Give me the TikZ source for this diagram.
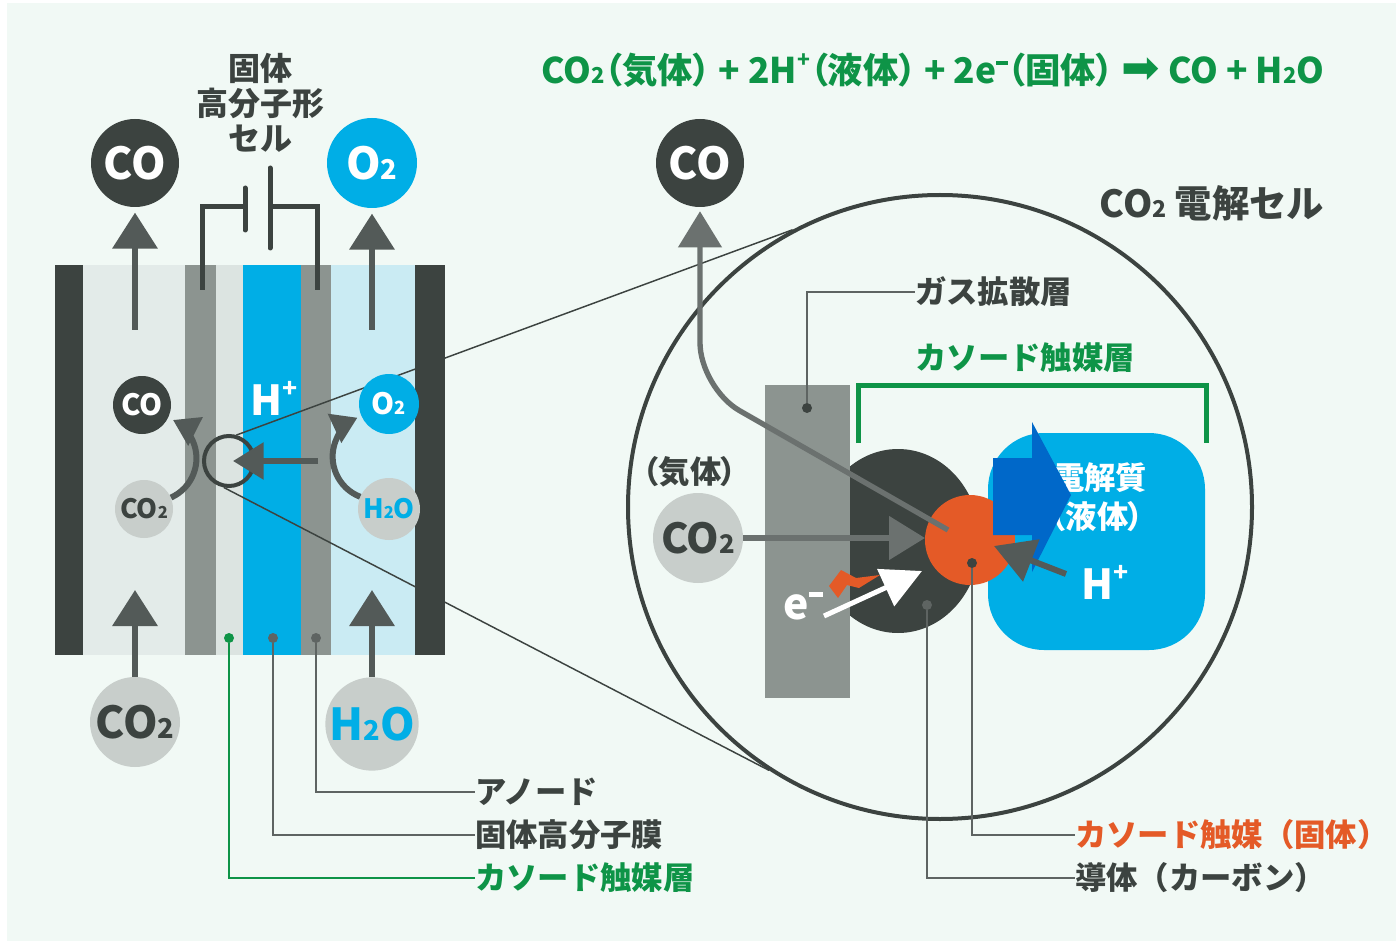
\documentclass[tikz,border=0pt]{standalone}
\usepackage{fontspec}
\usepackage{graphicx}
\setmainfont{Noto Sans CJK JP}
\newfontfamily\jpp{Noto Sans CJK JP}[RawFeature=+palt]
\newfontfamily\djv{DejaVu Sans}
\usetikzlibrary{arrows.meta}
\newcommand\setpt[1]{\fontsize{#1}{#1}\selectfont}
\newcommand\chemsub[1]{\scalebox{0.62}{#1}}
\newcommand\chemsup[1]{\raisebox{0.8ex}{\scalebox{0.6}{#1}}}
\newcommand\chemminus{\raisebox{0.95ex}{\rule{0.32em}{0.11em}}}

\definecolor{bgmint}{HTML}{F1F9F5}
\definecolor{ink}{HTML}{3C4340}
\definecolor{arrowgray}{HTML}{535A58}
\definecolor{midgray}{HTML}{6B716F}
\definecolor{layergray}{HTML}{8C9490}
\definecolor{gaslight}{HTML}{E3EBE9}
\definecolor{catlight}{HTML}{DCE4E1}
\definecolor{skyblue}{HTML}{00AEE6}
\definecolor{paleblue}{HTML}{CAEBF3}
\definecolor{pebble}{HTML}{C8CECB}
\definecolor{leafgreen}{HTML}{0E9447}
\definecolor{rust}{HTML}{E45A27}
\definecolor{deepblue}{HTML}{0068C9}
\definecolor{leadergray}{HTML}{5E6462}

\tikzset{
  mol/.style={circle, inner sep=0pt, font=\bfseries\setpt{33}},
  smallmol/.style={circle, inner sep=0pt, font=\bfseries\setpt{22}},
  lbl/.style={inner sep=0pt, text=ink, font=\bfseries\setpt{23.5}},
  leaddot/.style={circle, inner sep=0pt, minimum size=7.5pt},
  leader/.style={draw=leadergray, line width=1.1pt},
  flowbig/.style={draw=arrowgray, line width=5pt, -{Triangle[length=27pt,width=33pt]}},
  flowturn/.style={draw=arrowgray, line width=4.5pt, -{Triangle[length=19pt,width=23pt]}},
  flowmid/.style={draw=midgray, line width=4pt, -{Triangle[length=27pt,width=32pt]}},
  wire/.style={draw=ink, line width=3.75pt},
}

\begin{document}
\begin{tikzpicture}[x=0.75pt, y=-0.75pt]
\useasboundingbox (0,0) rectangle (1396,941);
\fill[white] (0,0) rectangle (1396,941);
\fill[bgmint] (7,3) rectangle (1396,941);

% ---------- solid polymer cell, cross-section ----------
\fill[ink] (55,265) rectangle (83,655);
\fill[gaslight] (83,265) rectangle (185,655);
\fill[layergray] (185,265) rectangle (216,655);
\fill[catlight] (216,265) rectangle (243,655);
\fill[skyblue] (243,265) rectangle (301,655);
\fill[layergray] (301,265) rectangle (331,655);
\fill[paleblue] (331,265) rectangle (415,655);
\fill[ink] (415,265) rectangle (445,655);

% power source
\draw[wire] (202,290) -- (202,207) -- (245,207);
\draw[wire, line cap=round] (245,188) -- (245,230);
\draw[wire, line cap=round] (270,168) -- (270,248);
\draw[wire] (270,207) -- (317,207) -- (317,290);
\node[lbl, align=center, font=\bfseries\fontsize{24}{26}\selectfont] (cellname) at (260,103) {固体\\高分子形\\セル};

% magnifier spot and big lens
\node[circle, draw=ink, line width=3pt, minimum size=37.5pt, inner sep=0pt] (zoomSpot) at (229,461) {};
\node[circle, draw=ink, line width=3pt, minimum size=468pt, inner sep=0pt] (lens) at (940,507) {};
\draw[ink, line width=1.1pt] (zoomSpot.74) -- (lens.118);
\draw[ink, line width=1.1pt] (zoomSpot.259) -- (lens.237);

% layer pointers
\node[leaddot, fill=leafgreen] (dCat) at (229,638) {};
\node[leaddot, fill=leadergray] (dMem) at (273,638) {};
\node[leaddot, fill=leadergray] (dAn) at (316,638) {};
\node[lbl, anchor=west] (lAn) at (475,792) {アノード};
\node[lbl, anchor=west] (lMem) at (475,835) {固体高分子膜};
\node[lbl, anchor=west, text=leafgreen] (lCat) at (475,878) {カソード触媒層};
\draw[leader] (dAn) |- (lAn.west);
\draw[leader] (dMem) |- (lMem.west);
\draw[leader, draw=leafgreen] (dCat) |- (lCat.west);

% molecules in and out
\node[mol, fill=ink, text=white, minimum size=66pt] (coTop) at (135,163) {CO};
\node[mol, fill=skyblue, text=white, minimum size=67.5pt] (o2Top) at (372,163) {O\chemsub{2}};
\node[mol, fill=pebble, text=ink, minimum size=67.5pt] (co2Bot) at (135,722) {CO\chemsub{2}};
\node[mol, fill=pebble, text=skyblue, minimum size=70pt] (h2oBot) at (372,724) {H\chemsub{2}O};

\coordinate (coRise) at (135,330);
\coordinate (o2Rise) at (372,330);
\coordinate (co2Feed) at (135,590);
\coordinate (h2oFeed) at (372,590);
\draw[flowbig, shorten >=4pt] (coRise) -- (coTop);
\draw[flowbig, shorten >=4pt] (o2Rise) -- (o2Top);
\draw[flowbig] (co2Bot) -- (co2Feed);
\draw[flowbig] (h2oBot) -- (h2oFeed);

% reactions at the electrodes
\node[smallmol, fill=ink, text=white, minimum size=43.5pt] (coS) at (142,405) {CO};
\node[smallmol, fill=skyblue, text=white, minimum size=45pt] (o2S) at (389,404) {O\chemsub{2}};
\node[smallmol, fill=pebble, text=ink, minimum size=43.5pt, font=\bfseries\setpt{20}] (co2S) at (144,509) {CO\chemsub{2}};
\node[smallmol, fill=pebble, text=skyblue, minimum size=46.5pt, font=\bfseries\setpt{20}] (h2oS) at (389,509) {H\chemsub{2}O};
\draw[flowturn] (co2S.23) arc[start angle=66, end angle=-63, radius=43];
\draw[flowturn] (h2oS.157) arc[start angle=111, end angle=245, radius=43];

\node[text=white, inner sep=0pt, font=\bfseries\setpt{31}] (hplusL) at (274,398) {H\chemsup{+}};
\coordinate (hplusSrc) at (318,461);
\coordinate (hplusTip) at (233,461);
\draw[draw=arrowgray, line width=4.5pt, -{Triangle[length=23pt,width=27pt]}] (hplusSrc) -- (hplusTip);

% ---------- enlarged cathode ----------
\fill[ink] (898,541) ellipse[x radius=82, y radius=92];
\fill[layergray] (765,385) rectangle (850,698);
\node[fill=skyblue, rounded corners=42pt, minimum width=162.75pt, minimum height=162.75pt, inner sep=0pt] (elec) at (1096.5,541.5) {};
\node[lbl, text=white] (elecName) at (1100,478) {電解質};
\node[lbl, text=white, font=\jpp\bfseries\setpt{23.5}] (elecState) at (1097,517) {（液体）};
\node[circle, fill=rust, minimum size=67.5pt, inner sep=0pt] (catalyst) at (970,540) {};

\node[leaddot, fill=ink] (dGdl) at (807,408) {};
\node[leaddot, fill=ink] (dCatR) at (972,563) {};
\node[leaddot, fill=leadergray] (dCarb) at (927,605) {};
\node[lbl, anchor=west] (lGdl) at (915,292) {ガス拡散層};
\node[lbl, anchor=west, text=rust] (lCatR) at (1075,835) {カソード触媒（固体）};
\node[lbl, anchor=west] (lCarb) at (1075,878) {導体（カーボン）};
\draw[leader] (dGdl) |- (lGdl.west);
\draw[leader] (dCatR) |- (lCatR.west);
\draw[leader] (dCarb) |- (lCarb.west);

% cathode catalyst layer bracket
\draw[leafgreen, line width=3.75pt] (858,443) -- (858,385) -- (1206,385) -- (1206,443);
\node[lbl, text=leafgreen] (lCatLayer) at (1025,358) {カソード触媒層};

% block arrow over the electrolyte
\fill[deepblue] (993,458) -- (1032,458) -- (1032,422) -- (1071,495) -- (1032,572) -- (1032,535) -- (993,535) -- cycle;

% protons, CO2 and electrons meet at the catalyst
\node[text=white, inner sep=0pt, font=\bfseries\setpt{31}] (hplusR) at (1105,582) {H\chemsup{+}};
\coordinate (hSrc) at (1066,574);
\coordinate (hTip) at (994,546);
\draw[draw=arrowgray, line width=4.5pt, -{Triangle[length=30pt,width=33pt]}] (hSrc) -- (hTip);

\node[mol, fill=ink, text=white, minimum size=66pt] (coR) at (700,163) {CO};
\coordinate (coSrc) at (948,530);
\coordinate (coBend) at (700,388);
\draw[flowmid, rounded corners=34pt, shorten >=3pt] (coSrc) -- (coBend) -- (coR);

\node[mol, fill=pebble, text=ink, minimum size=67.5pt, font=\bfseries\setpt{31}] (co2R) at (698,538) {CO\chemsub{2}};
\node[lbl, font=\jpp\bfseries\setpt{23.5}] (gasState) at (690,472) {（気体）};
\coordinate (co2Tip) at (925,538);
\draw[flowmid, line width=4.5pt] (co2R) -- (co2Tip);

\coordinate (eSrc) at (824,616);
\coordinate (eTip) at (922,571);
\draw[white, line width=3.75pt, -{Triangle[length=30pt,width=30pt]}] (eSrc) -- (eTip);
\fill[rust] (829,586) -- (841,570) -- (856,578) -- (880,575) -- (859,588) -- (847,585) -- (838,598) -- cycle;
\node[text=white, inner sep=0pt, font=\bfseries\setpt{32}] (eLabel) at (803,606) {e\chemminus};

% titles
\node[lbl, font=\bfseries\setpt{28}] (cellTitle) at (1212,203) {CO\chemsub{2} 電解セル};
\node[inner sep=0pt, text=leafgreen, font=\jpp\bfseries\setpt{26.5}] (eqn) at (933,70)
  {CO\chemsub{2}（気体） + 2H\chemsup{+}（液体） + 2e\chemminus（固体） {\djv\mdseries\scalebox{1.3}{➡}} CO + H\chemsub{2}O};
\end{tikzpicture}
\end{document}
